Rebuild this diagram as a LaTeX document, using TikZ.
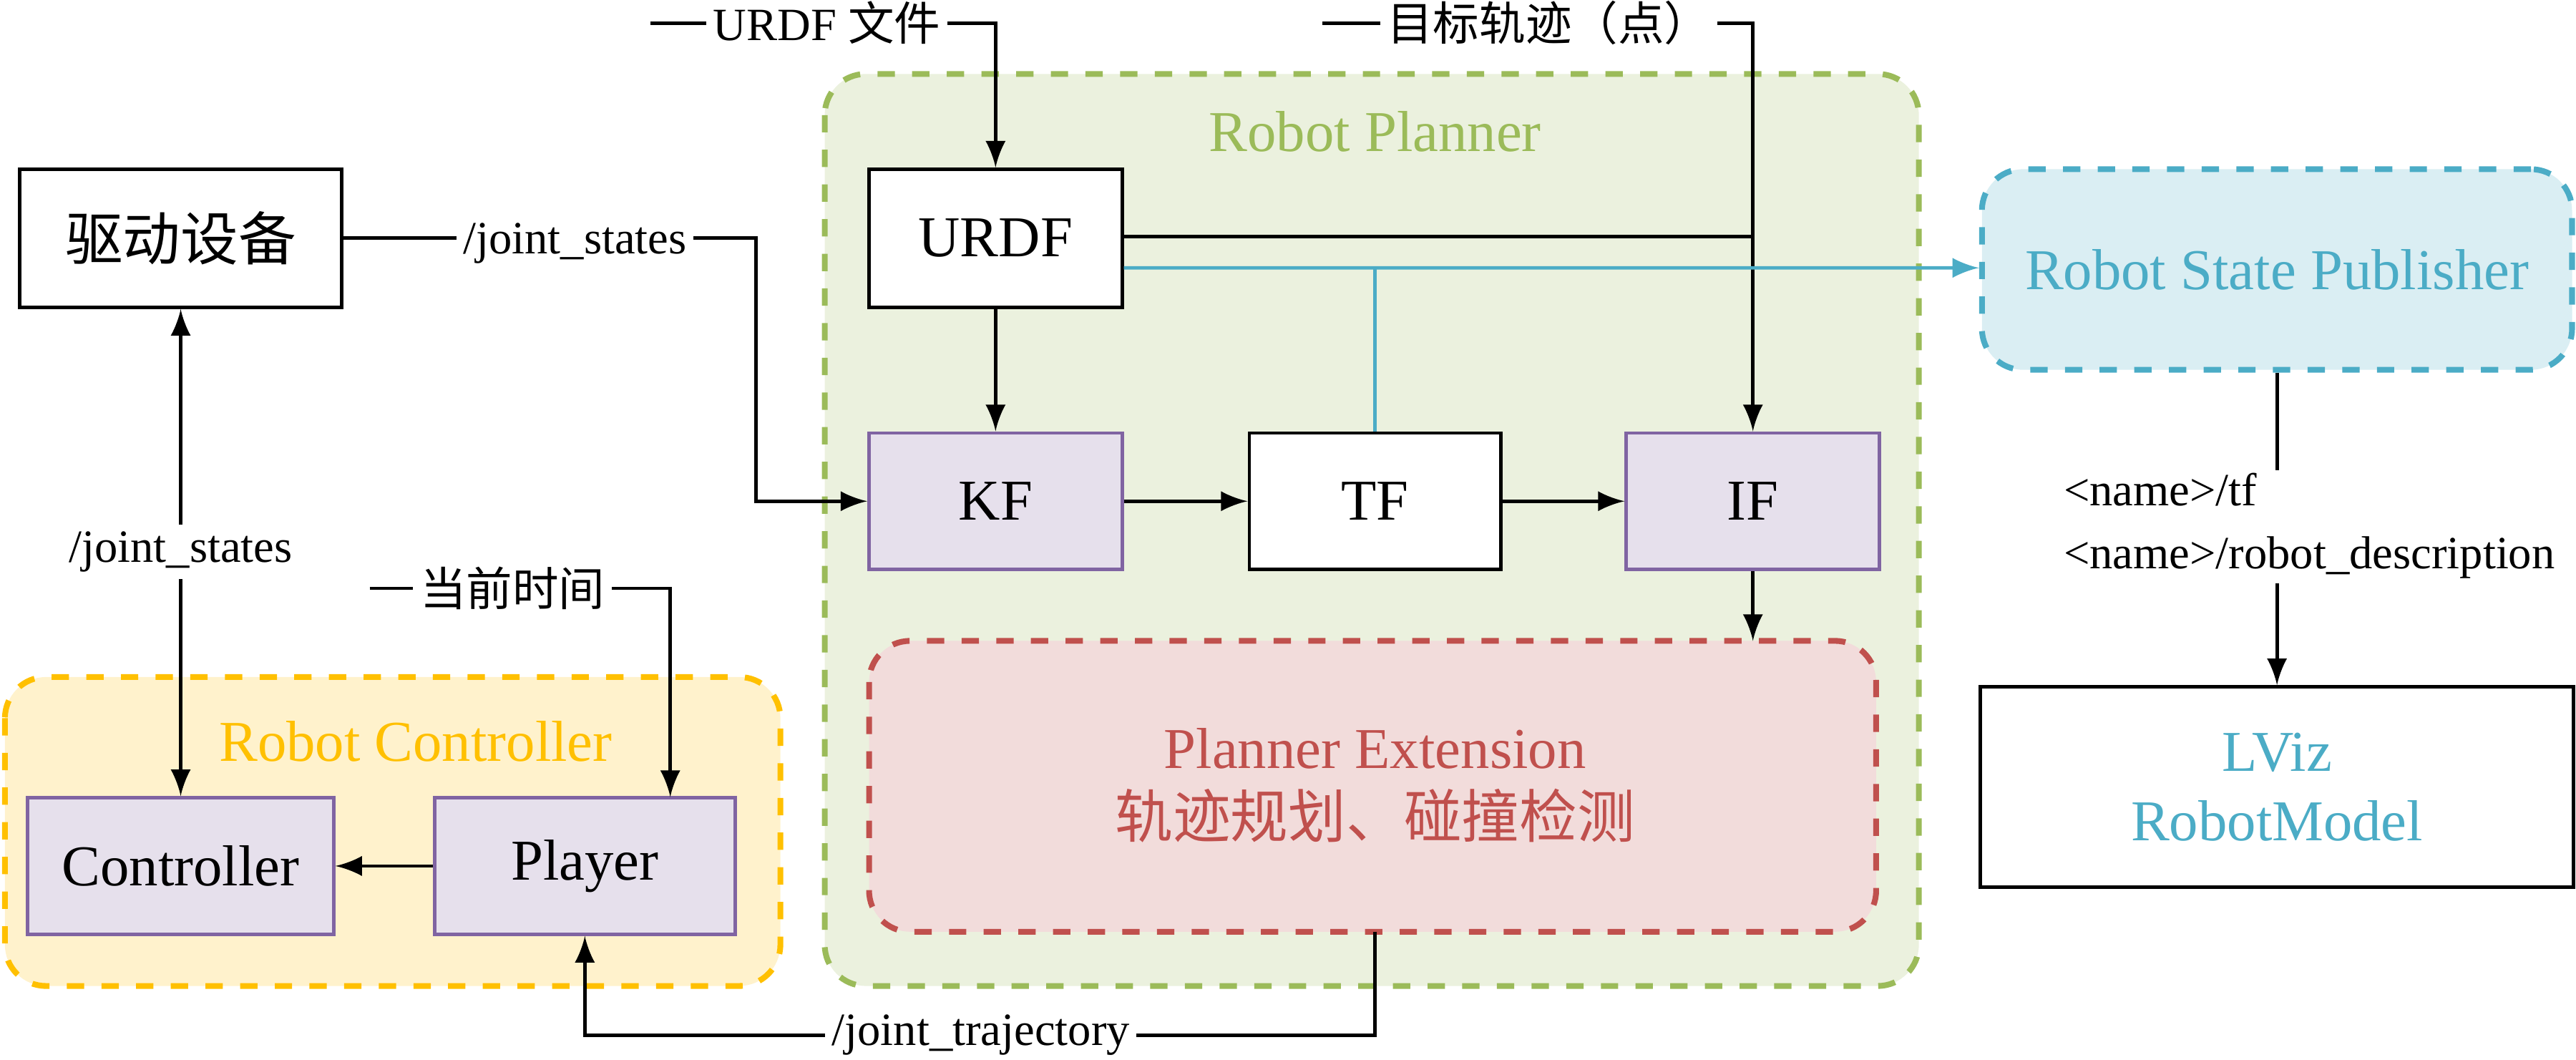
\documentclass[tikz,border=0pt]{standalone}
\usepackage{fontspec}
\setmainfont{Liberation Serif}
\newfontfamily\cjk{Noto Sans CJK SC}
\usetikzlibrary{positioning,arrows}
\definecolor{grn}{RGB}{155,187,89}
\definecolor{grnfill}{RGB}{235,241,222}
\definecolor{ylw}{RGB}{255,192,0}
\definecolor{ylwfill}{RGB}{255,242,204}
\definecolor{rd}{RGB}{192,80,77}
\definecolor{rdfill}{RGB}{242,220,219}
\definecolor{blu}{RGB}{75,172,198}
\definecolor{blufill}{RGB}{218,238,243}
\definecolor{lav}{RGB}{230,224,236}
\definecolor{purp}{RGB}{128,100,162}
\tikzstyle{arrow} = [line width=0.6pt,-latex]
\tikzstyle{wire} = [line width=0.6pt]
\tikzstyle{plainbox} = [draw, line width=0.6pt, fill=white, font=\fontsize{10}{12}\selectfont]
\tikzstyle{modbox} = [draw=purp, line width=0.6pt, fill=lav, font=\fontsize{10}{12}\selectfont]
\tikzstyle{group} = [dashed, line width=1pt, rounded corners=0.25cm]
\tikzstyle{lbl} = [inner sep=1pt, font=\fontsize{8}{10}\selectfont]

\begin{document}
\begin{tikzpicture}[x=0.01cm, y=-0.01cm]
        \useasboundingbox (0,0) rectangle (1568,645);
        % groups
        \draw[group, draw=ylw, fill=ylwfill] (3,412) rectangle (475,600);
        \draw[group, draw=grn, fill=grnfill] (502,45) rectangle (1168,600);
        \draw[group, draw=rd, fill=rdfill] (529,390) rectangle (1142,567);
        \node[text=ylw, font=\fontsize{10}{12}\selectfont] (rc) at (253,451) {Robot Controller};
        \node[text=grn, font=\fontsize{10}{12}\selectfont] (rp) at (837,80) {Robot Planner};
        \node[text=rd, font=\fontsize{10}{12}\selectfont, align=center] (pe) at (837,478) {Planner Extension\\{\cjk 轨迹规划、碰撞检测}};
        \node[group, draw=blu, fill=blufill, text=blu, minimum width=3.59cm, minimum height=1.22cm, font=\fontsize{10}{12}\selectfont] (rsp) at (1386,164) {Robot State Publisher};
        
        % boxes
        \node[plainbox, minimum width=1.96cm, minimum height=0.84cm] (dev) at (110,145) {\cjk 驱动设备};
        \node[modbox, minimum width=1.86cm, minimum height=0.83cm] (ctrl) at (110,527) {Controller};
        \node[modbox, minimum width=1.83cm, minimum height=0.83cm] (play) at (356,527) {Player};
        \node[plainbox, minimum width=1.54cm, minimum height=0.84cm] (urdf) at (606,145) {URDF};
        \node[modbox, minimum width=1.54cm, minimum height=0.83cm] (kf) at (606,305) {KF};
        \node[plainbox, minimum width=1.53cm, minimum height=0.83cm] (tf) at (837,305) {TF};
        \node[modbox, minimum width=1.54cm, minimum height=0.83cm] (if) at (1067,305) {IF};
        \node[plainbox, minimum width=3.61cm, minimum height=1.22cm, text=blu, align=center] (lviz) at (1386,479) {LViz\\RobotModel};
        
        % labels
        \node[lbl, anchor=west] (urdfin) at (430,14) {URDF {\cjk 文件}};
        \node[lbl, anchor=west] (goal) at (840,14) {\cjk 目标轨迹（点）};
        \node[lbl] (js1) at (350,148) {/joint\_states};
        \node[lbl] (js2) at (110,336) {/joint\_states};
        \node[lbl] (now) at (312,358) {\cjk 当前时间};
        \node[lbl] (jt) at (597,630) {/joint\_trajectory};
        \node[lbl, align=left, anchor=west, font=\fontsize{8}{11}\selectfont] (topics) at (1252,320) {<name>/tf\\<name>/robot\_description};
        \coordinate (urdfs) at (396,14);
        \coordinate (goals) at (805,14);
        \coordinate (nows) at (225,358);
        
        % connectors
        \draw[wire] (urdfs) -- (urdfin.west);
        \draw[arrow] (urdfin.east) -| (urdf.north);
        \draw[wire] (goals) -- (goal.west);
        \draw[arrow] (goal.east) -| (if.north);
        \draw[wire] ([yshift=0.01cm]urdf.east) -- (1067,144);
        \draw[-latex, line width=0.6pt, blu] ([yshift=-0.18cm]urdf.east) -- ([yshift=0.01cm]rsp.west);
        \draw[wire, blu] (837,163) -- (tf.north);
        \draw[arrow] (urdf) -- (kf);
        \draw[arrow] (kf) -- (tf);
        \draw[arrow] (tf) -- (if);
        \draw[arrow] (if.south) -- (1067,390);
        \draw[wire] (dev.east) -- (dev.east -| js1.west);
        \draw[arrow] (dev.east -| js1.east) -- (460,145) |- (kf.west);
        \draw[arrow] (js2) -- (dev);
        \draw[arrow] (js2) -- (ctrl);
        \draw[wire] (nows) -- (now.west);
        \draw[arrow] (now.east) -| (408,485);
        \draw[arrow] (play) -- (ctrl);
        \draw[wire] (837,567) |- (jt.east);
        \draw[arrow] (jt.west) -| (play.south);
        \draw[wire] (rsp.south) -- (1386,286);
        \draw[arrow] (1386,355) -- (lviz.north);
    \end{tikzpicture}
\end{document}
